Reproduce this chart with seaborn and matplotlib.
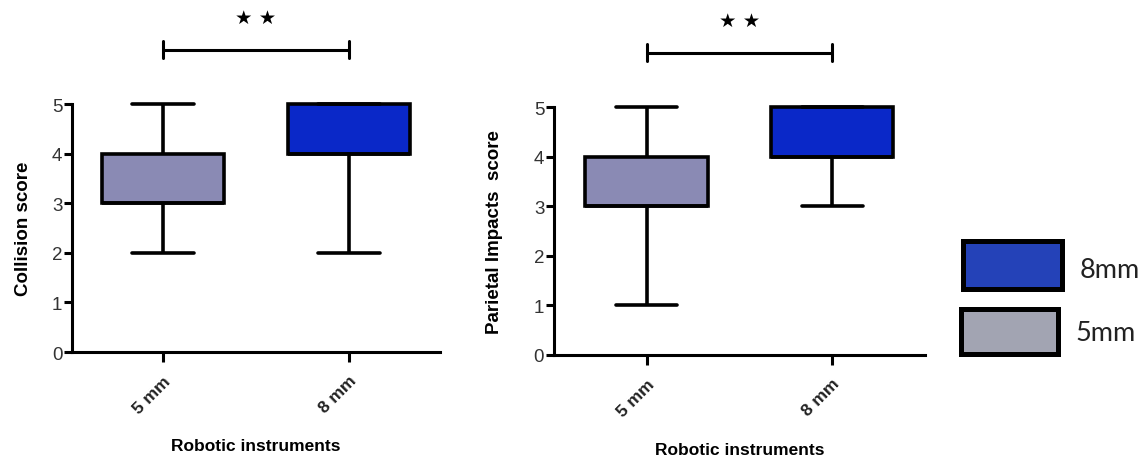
import matplotlib
matplotlib.use("Agg")
import matplotlib.pyplot as plt
import seaborn as sns
import pandas as pd
from matplotlib.patches import Rectangle

# ---- data ----
categories = ["5 mm", "8 mm"]
collision_5mm = [2, 3, 3, 3, 3, 4, 4, 5]
collision_8mm = [2, 4, 4, 4, 4, 5, 5, 5]
parietal_5mm = [1, 3, 3, 3, 3, 4, 4, 5]
parietal_8mm = [3, 4, 4, 4, 4, 5, 5, 5]
yticks = [0, 1, 2, 3, 4, 5]
box_colors = ["#8a8ab4", "#0a28c8"]
legend_labels = ["8mm", "5mm"]
legend_colors = ["#2442b8", "#a2a4b2"]
signif = "★ ★"

sns.set_theme(style="ticks")
plt.rcParams["font.family"] = ["Liberation Sans", "DejaVu Sans"]

fig = plt.figure(figsize=(11.45, 4.6), dpi=100)
ax1 = fig.add_axes([0.0629, 0.2326, 0.3214, 0.539])
ax2 = fig.add_axes([0.4838, 0.2261, 0.3240, 0.539])


def make_df(a, b):
    return pd.DataFrame({
        "group": [categories[0]] * len(a) + [categories[1]] * len(b),
        "score": list(a) + list(b),
    })


panels = [
    (ax1, make_df(collision_5mm, collision_8mm), "Collision score", (-0.49, 1.49), 14, 16),
    (ax2, make_df(parietal_5mm, parietal_8mm), "Parietal Impacts  score", (-0.5, 1.5), 22, 17),
]

for ax, df, ylab, xl, ypad, xpad in panels:
    sns.boxplot(data=df, x="group", y="score", hue="group", order=categories,
                hue_order=categories, palette=box_colors, legend=False,
                whis=(0, 100), width=0.66, linewidth=2.6, linecolor="black",
                saturation=1, ax=ax)
    for art in ax.get_children():
        try:
            art.set_clip_on(False)
        except Exception:
            pass
    ax.set_ylim(0, 5)
    ax.set_xlim(*xl)
    ax.set_yticks(yticks)
    ax.set_yticklabels([str(t) for t in yticks], fontsize=13.5, color="#333333")
    ax.set_xticks(range(len(categories)))
    ax.set_xticklabels(categories, rotation=45, ha="right", rotation_mode="anchor",
                       fontsize=12.5, fontweight="bold", color="#222222")
    ax.set_ylabel(ylab, fontsize=13.5, fontweight="bold", labelpad=ypad, color="black")
    ax.set_xlabel("Robotic instruments", fontsize=12.5, fontweight="bold",
                  labelpad=xpad, color="black")
    for s in ["top", "right"]:
        ax.spines[s].set_visible(False)
    for s in ["left", "bottom"]:
        ax.spines[s].set_linewidth(2.2)
        ax.spines[s].set_color("black")
    ax.tick_params(axis="y", width=2.2, length=6, color="black", pad=1)
    ax.tick_params(axis="x", width=2.2, length=7, color="black", pad=8)
    # significance bar
    ax.plot([0, 1], [6.1, 6.1], color="black", lw=2.2, clip_on=False,
            solid_capstyle="butt")
    for xx in [0, 1]:
        ax.plot([xx, xx], [5.93, 6.27], color="black", lw=2.2, clip_on=False)
    ax.text(0.5, 6.75, signif, ha="center", va="center", fontsize=14,
            family=["DejaVu Sans"], color="black", clip_on=False)

# legend
rects = [
    (0.841, 0.3696, 0.0865, 0.104),
    (0.839, 0.228, 0.0847, 0.098),
]
text_pos = [(0.943, 0.413), (0.939, 0.276)]
for (x, y, w, h), c, lab, (tx, ty) in zip(rects, legend_colors, legend_labels, text_pos):
    fig.add_artist(Rectangle((x, y), w, h, transform=fig.transFigure,
                             facecolor=c, edgecolor="black", linewidth=3.6))
    fig.text(tx, ty, lab, ha="left", va="center", fontsize=19.5,
             family=["Lato", "DejaVu Sans"], color="#222222")

fig.savefig("out.png", dpi=100)
